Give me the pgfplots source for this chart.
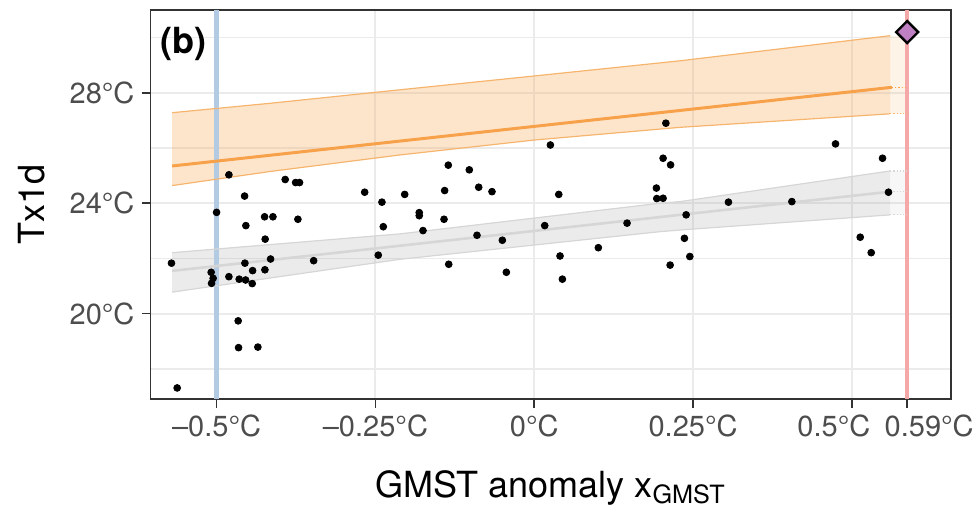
\documentclass[border=0pt]{standalone}
\usepackage{fontspec}
\setmainfont{TeX Gyre Heros}
\usepackage{pgfplots}
\pgfplotsset{compat=1.18}
\usepgfplotslibrary{fillbetween}
\definecolor{orng}{HTML}{F7A24B}
\definecolor{orngfill}{HTML}{F9A857}
\definecolor{orngedge}{HTML}{F6B56E}
\definecolor{bandgrey}{HTML}{D6D6D6}
\definecolor{bandfill}{HTML}{999999}
\definecolor{gridc}{HTML}{EBEBEB}
\definecolor{framec}{HTML}{333333}
\definecolor{tickc}{HTML}{4D4D4D}
\definecolor{blueline}{HTML}{B3CAE3}
\definecolor{redline}{HTML}{F5A8A8}
\definecolor{purp}{HTML}{BF80C3}

\pgfplotstableread{
x y
-0.571 21.83
-0.562 17.31
-0.5085 21.50
-0.5054 21.28
-0.5079 21.10
-0.500 23.67
-0.4806 25.03
-0.4806 21.34
-0.466 19.74
-0.4654 18.77
-0.4644 21.25
-0.4559 24.26
-0.4554 21.83
-0.4543 21.22
-0.4539 23.19
-0.4439 21.09
-0.4433 21.56
-0.435 18.79
-0.4244 23.51
-0.4239 21.59
-0.4235 22.70
-0.415 21.98
-0.4113 23.51
-0.392 24.86
-0.3756 24.75
-0.3694 24.75
-0.372 23.42
-0.3472 21.92
-0.2669 24.40
-0.2455 22.12
-0.2397 24.04
-0.2376 23.15
-0.2039 24.32
-0.181 23.66
-0.181 23.55
-0.1751 23.01
-0.142 23.42
-0.141 24.46
-0.1353 25.38
-0.1346 21.79
-0.1022 25.21
-0.0901 22.84
-0.0874 24.58
-0.0665 24.42
-0.0502 22.66
-0.0439 21.50
0.0165 23.19
0.0254 26.11
0.0386 24.32
0.0406 22.09
0.0443 21.25
0.1009 22.39
0.1461 23.28
0.1923 24.55
0.1929 24.17
0.2028 24.18
0.2028 25.63
0.2072 26.90
0.2146 25.39
0.2139 21.76
0.2364 22.73
0.2391 23.58
0.2449 22.07
0.3057 24.04
0.4055 24.06
0.4742 26.15
0.5131 22.77
0.5304 22.21
0.5482 25.63
0.5576 24.40
}\obs

\begin{document}
\begin{tikzpicture}
\begin{axis}[
 at={(0,0)}, anchor=south west,
 scale only axis, width=400.25pt, height=194.35pt,
 xmin=-0.604, xmax=0.656, ymin=16.92, ymax=31.0,
 xtick={-0.5,-0.25,0,0.25,0.5,0.587},
 xticklabels={–0.5°C,–0.25°C,0°C,0.25°C,\hspace*{-18pt}0.5°C,0.59°C\hspace*{-22pt}},
 ytick={20,24,28}, yticklabels={20°C,24°C,28°C},
 minor ytick={18,22,26,30},
 xmajorgrids, ymajorgrids, yminorgrids,
 major grid style={draw=gridc, line width=1pt},
 minor grid style={draw=gridc, line width=0.7pt},
 axis line style={draw=framec, line width=0.8pt},
 tick align=outside, xtick pos=left, ytick pos=left,
 major tick length=4.5pt, minor tick length=0pt,
 every tick/.style={draw=framec, line width=0.8pt},
 tick label style={text=tickc, font=\fontsize{14.5}{17}\selectfont},
 xlabel={GMST anomaly x\textsubscript{GMST}},
 ylabel={Tx1d},
 every axis x label/.style={at={(axis description cs:0.5,-0.2529)}, anchor=base, font=\fontsize{18}{21}\selectfont},
 every axis y label/.style={at={(axis description cs:-0.148,0.5)}, anchor=center, rotate=90, font=\fontsize{18}{21}\selectfont},
]
% reference lines
\addplot[blueline, line width=2.2pt, forget plot] coordinates {(-0.5,15) (-0.5,33)};
\addplot[redline, line width=2.2pt, forget plot] coordinates {(0.587,15) (0.587,33)};

% orange band
\addplot[name path=ou, orngedge, line width=0.6pt, forget plot] coordinates {
 (-0.570,27.28) (-0.416,27.62) (-0.2113,28.11) (0,28.61) (0.2296,29.16) (0.5603,30.07)};
\addplot[name path=ol, orngedge, line width=0.6pt, forget plot] coordinates {
 (-0.570,24.64) (-0.416,25.15) (-0.2113,25.75) (0,26.29) (0.2296,26.75) (0.5603,27.24)};
\addplot[orngfill, fill opacity=0.3, draw=none, forget plot] fill between[of=ou and ol];
% orange extension
\addplot[name path=oue, draw=none, forget plot] coordinates {(0.5603,30.07) (0.587,30.07)};
\addplot[name path=ole, orngedge, densely dotted, line width=0.6pt, forget plot] coordinates {(0.5603,27.24) (0.587,27.24)};
\addplot[orngfill, fill opacity=0.14, draw=none, forget plot] fill between[of=oue and ole];
\addplot[orng, densely dotted, line width=0.6pt, forget plot] coordinates {(0.563,28.20) (0.587,28.20)};
\addplot[orng, line width=1.5pt, forget plot] coordinates {(-0.570,25.35) (0.563,28.20)};

% grey band
\addplot[name path=gu, bandgrey, line width=0.6pt, forget plot] coordinates {
 (-0.570,22.21) (-0.2113,22.89) (0.1977,24.00) (0.2296,24.06) (0.5603,25.17)};
\addplot[name path=gl, bandgrey, line width=0.6pt, forget plot] coordinates {
 (-0.570,20.78) (-0.2113,21.97) (0.1977,22.97) (0.2296,23.03) (0.5603,23.58)};
\addplot[bandfill, fill opacity=0.2, draw=none, forget plot] fill between[of=gu and gl];
\addplot[name path=gue, bandgrey, densely dotted, line width=0.6pt, forget plot] coordinates {(0.5603,25.17) (0.587,25.17)};
\addplot[name path=gle, bandgrey, densely dotted, line width=0.6pt, forget plot] coordinates {(0.5603,23.58) (0.587,23.58)};
\addplot[bandfill, fill opacity=0.08, draw=none, forget plot] fill between[of=gue and gle];
\addplot[bandgrey, densely dotted, line width=0.6pt, forget plot] coordinates {(0.5603,24.42) (0.587,24.42)};
\addplot[bandgrey, line width=1.3pt, forget plot] coordinates {(-0.570,21.55) (0.5603,24.42)};

% observations
\addplot[only marks, mark=*, mark size=1.7pt, black, forget plot] table[x=x, y=y] {\obs};

% event
\addplot[only marks, mark=square*, mark size=3.9pt, mark options={rotate=45, fill=purp, draw=black, line width=1.2pt}, forget plot] coordinates {(0.587,30.20)};

\node[anchor=north west, inner sep=0pt, font=\bfseries\fontsize{18}{21}\selectfont] at (rel axis cs:0.012,0.956) {(b)};
\end{axis}
\path (-75.25pt,-61.15pt) rectangle (413.25pt,199.35pt);
\end{tikzpicture}
\end{document}
